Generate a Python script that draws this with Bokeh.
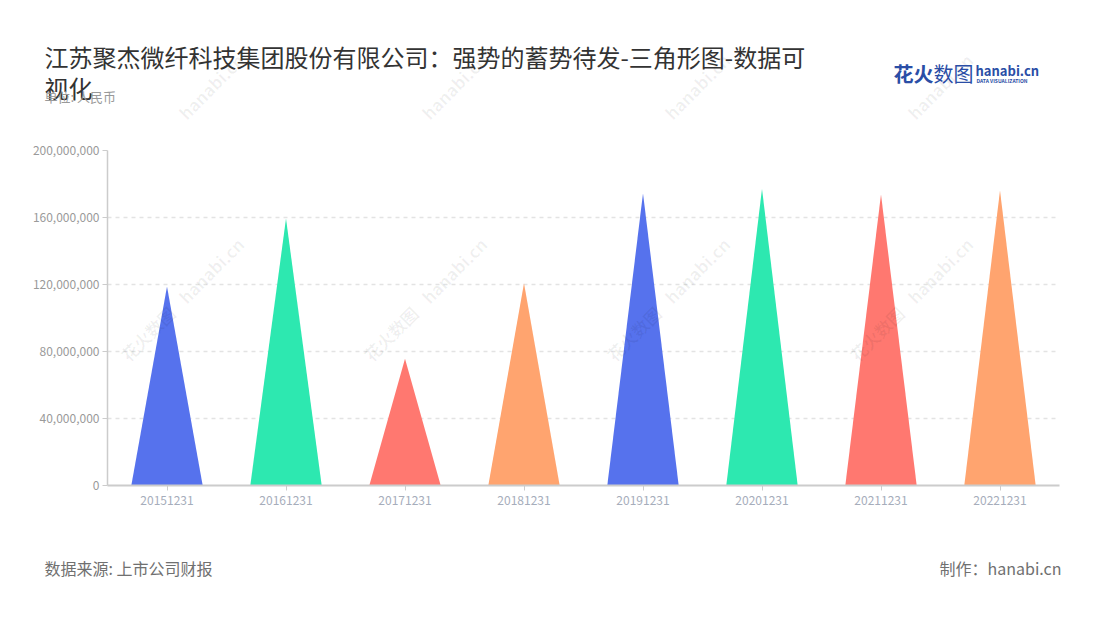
import math
from bokeh.plotting import figure
from bokeh.layouts import column
from bokeh.models import Range1d, FixedTicker, NumeralTickFormatter, Label, ColumnDataSource
from bokeh.embed import file_html
from bokeh.resources import INLINE

# ---- data ----
categories = ["20151231", "20161231", "20171231", "20181231",
              "20191231", "20201231", "20211231", "20221231"]
values = [118800000, 159400000, 75600000, 120800000,
          174500000, 177100000, 173700000, 176100000]
palette = ["#5672ED", "#2DE8B0", "#FF7870", "#FFA46F"]
y_ticks = [0, 40000000, 80000000, 120000000, 160000000, 200000000]

title_line1 = "江苏聚杰微纤科技集团股份有限公司：强势的蓄势待发-三角形图-数据可"
title_line2 = "视化"
unit_text = "单位: 人民币"
source_text = "数据来源: 上市公司财报"
maker_text = "制作：hanabi.cn"

FONT = "Noto Sans CJK SC"

# ---- layout (page px) ----
W = 1100
TOP_H = 140          # header figure: page y 0..140
MAIN_H = 400         # main figure: page y 140..540
FOOT_H = 80          # footer figure: page y 540..620
PL, PR, PT, PB = 107, 1059, 150, 485  # frame edges of chart in page coords

# watermark tiles (bottom-left anchor of the text, page coords)
WATERMARKS = [(132 + 243 * i, 182 + 184 * j) for i in range(4) for j in range(3)]
# (text, dx, dy, bbox rel. to anchor: x0, y0, x1, y1)
WM_PIECES = [("花火数图", 0, 0, (-12, -64, 60, 0)),
             ("hanabi.cn", 58, -58, (45, -115, 115, -45))]


def add_watermarks(fig, fx0, fy0, fx1, fy1):
    # fx0..fx1, fy0..fy1: frame of this figure in page coords (y down)
    for wx, wy in WATERMARKS:
        for txt, dx, dy, (bx0, by0, bx1, by1) in WM_PIECES:
            if wx + bx0 < fx0 or wx + bx1 > fx1 or wy + by0 < fy0 or wy + by1 > fy1:
                continue
            fig.add_layout(Label(x=wx + dx - fx0, y=fy1 - (wy + dy),
                                 x_units="screen", y_units="screen",
                                 text=txt, text_font=FONT, text_font_size="17px",
                                 text_font_style="bold", text_color="#000000",
                                 text_alpha=0.06, angle=math.pi / 4,
                                 text_align="left", text_baseline="bottom"))


def blank_fig(h):
    f = figure(width=W, height=h, output_backend="svg", toolbar_location=None,
               x_range=Range1d(0, W), y_range=Range1d(0, h),
               x_axis_type=None, y_axis_type=None,
               min_border=0, min_border_left=0, min_border_right=0,
               min_border_top=0, min_border_bottom=0)
    f.frame_align = False
    f.outline_line_color = None
    f.xgrid.visible = False
    f.ygrid.visible = False
    f.background_fill_color = "white"
    f.border_fill_color = "white"
    return f


def lab(fig, top_page, h, text, px, py, size, color, align="left", bold=False):
    fig.add_layout(Label(x=px, y=(top_page + h) - py, x_units="screen", y_units="screen",
                         text=text, text_font=FONT, text_font_size=size,
                         text_color=color, text_align=align, text_baseline="middle",
                         text_font_style="bold" if bold else "normal"))


# ---- header ----
head = blank_fig(TOP_H)
add_watermarks(head, 0, 0, W, TOP_H)
lab(head, 0, TOP_H, title_line1, 44, 56, "24px", "#333333")
lab(head, 0, TOP_H, title_line2, 44, 87, "24px", "#333333")
lab(head, 0, TOP_H, unit_text, 44, 96, "13px", "#999999")
lab(head, 0, TOP_H, "花火", 893, 73, "20px", "#2a4ea6", bold=True)
lab(head, 0, TOP_H, "数图", 933, 73, "20px", "#2a4ea6")
lab(head, 0, TOP_H, "hanabi.cn", 975, 70, "13px", "#2a4ea6", bold=True)
lab(head, 0, TOP_H, "DATA VISUALIZATION", 976, 80, "5px", "#2a4ea6", bold=True)

# ---- main chart ----
n = len(categories)
colors = [palette[i % len(palette)] for i in range(n)]
half = 0.3
src = ColumnDataSource(dict(
    xs=[[i - half, i, i + half] for i in range(n)],
    ys=[[0, v, 0] for v in values],
    color=colors,
))

p = figure(width=W, height=MAIN_H, output_backend="svg", toolbar_location=None,
           x_range=Range1d(-0.5, n - 0.5), y_range=Range1d(0, y_ticks[-1]),
           min_border_left=PL, min_border_right=W - PR,
           min_border_top=PT - TOP_H, min_border_bottom=(TOP_H + MAIN_H) - PB)
p.frame_align = False
p.outline_line_color = None
p.background_fill_color = "white"
p.border_fill_color = "white"

add_watermarks(p, PL, PT, PR, PB)

p.patches("xs", "ys", source=src, fill_color="color", line_color=None)

p.xaxis.ticker = FixedTicker(ticks=list(range(n)))
p.xaxis.major_label_overrides = {i: c for i, c in enumerate(categories)}
p.xaxis.minor_tick_line_color = None
p.xaxis.major_tick_in = 0
p.xaxis.major_tick_out = 5
p.xaxis.major_tick_line_color = "#cccccc"
p.xaxis.axis_line_color = "#cccccc"
p.xaxis.axis_line_width = 2
p.xaxis.major_label_text_color = "#a6adbb"
p.xaxis.major_label_text_font = FONT
p.xaxis.major_label_text_font_size = "12px"
p.xaxis.major_label_standoff = 5

p.yaxis.ticker = FixedTicker(ticks=y_ticks)
p.yaxis.formatter = NumeralTickFormatter(format="0,0")
p.yaxis.minor_tick_line_color = None
p.yaxis.major_tick_in = 0
p.yaxis.major_tick_out = 5
p.yaxis.major_tick_line_color = "#cccccc"
p.yaxis.axis_line_color = "#cccccc"
p.yaxis.axis_line_width = 1.5
p.yaxis.major_label_text_color = "#9a9a9a"
p.yaxis.major_label_text_font = FONT
p.yaxis.major_label_text_font_size = "12px"
p.yaxis.major_label_standoff = 3

p.xgrid.visible = False
p.ygrid.ticker = FixedTicker(ticks=y_ticks)
p.ygrid.grid_line_color = "#e3e3e3"
p.ygrid.grid_line_dash = "4 4"
p.ygrid.grid_line_width = 1.5

# ---- footer ----
foot = blank_fig(FOOT_H)
FT = TOP_H + MAIN_H
add_watermarks(foot, 0, FT, W, FT + FOOT_H)
lab(foot, FT, FOOT_H, source_text, 44, 567, "16px", "#707070")
lab(foot, FT, FOOT_H, maker_text, 1061, 567, "16px", "#707070", align="right")

layout = column(head, p, foot, spacing=0)
open("out.html", "w").write(file_html(layout, INLINE))
